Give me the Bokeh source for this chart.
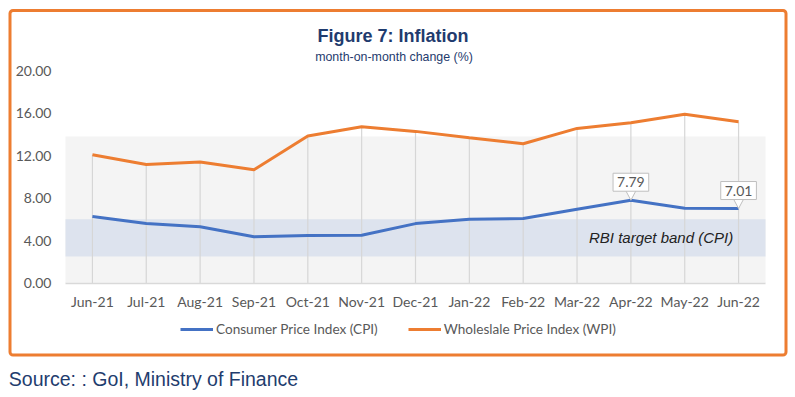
from bokeh.plotting import figure
from bokeh.models import (Label, BoxAnnotation, Legend, LegendItem, FixedTicker,
                          Range1d, NumeralTickFormatter, ColumnDataSource)
from bokeh.embed import file_html
from bokeh.resources import INLINE

# ---- data ----
months = ["Jun-21", "Jul-21", "Aug-21", "Sep-21", "Oct-21", "Nov-21", "Dec-21",
          "Jan-22", "Feb-22", "Mar-22", "Apr-22", "May-22", "Jun-22"]
cpi = [6.26, 5.59, 5.30, 4.35, 4.48, 4.50, 5.59, 6.01, 6.07, 6.95, 7.79, 7.04, 7.01]
wpi = [12.07, 11.16, 11.39, 10.66, 13.83, 14.70, 14.27, 13.68, 13.11, 14.55, 15.08, 15.88, 15.18]
y_ticks = [0, 4, 8, 12, 16, 20]
band_low, band_high = 2.5, 6.0
panel_top = 13.8
callout_months = ["Apr-22", "Jun-22"]

BLUE = "#4472C4"
ORANGE = "#ED7D31"
NAVY = "#1F3B6E"
GREY_TXT = "#595959"

# ---- layout (pixels) ----
W, H = 795, 397
PX_L, PX_R = 65, 765          # plot area left/right
PX_Y0, PX_YTOP = 282.5, 70    # pixel rows of y=0 and y=top tick

n = len(months)
x_lo, x_hi = -0.5, n - 0.5
ppx = (PX_R - PX_L) / (x_hi - x_lo)
y_lo, y_hi = y_ticks[0], y_ticks[-1]
ppy = (PX_Y0 - PX_YTOP) / (y_hi - y_lo)

xs = list(range(n))
src = ColumnDataSource(dict(x=xs, cpi=cpi, wpi=wpi, zero=[0] * n))

p = figure(width=W, height=H, output_backend="svg", toolbar_location=None,
           x_range=Range1d(x_lo - PX_L / ppx, x_hi + (W - PX_R) / ppx),
           y_range=Range1d(y_lo - (H - PX_Y0) / ppy, y_hi + PX_YTOP / ppy),
           min_border=0)
p.outline_line_color = None
p.background_fill_color = "white"
p.border_fill_color = "white"
p.xgrid.visible = False
p.ygrid.visible = False

# plot-area panel and RBI band
p.quad(left=x_lo, right=x_hi, bottom=0, top=panel_top, fill_color="#F4F4F4", line_color=None)
p.quad(left=x_lo, right=x_hi, bottom=band_low, top=band_high, fill_color="#DDE3EE", line_color=None)

# drop lines to WPI points
p.segment(x0="x", y0="zero", x1="x", y1="wpi", source=src, line_color="#D6D6D6", line_width=1.2)

r_cpi = p.line("x", "cpi", source=src, line_color=BLUE, line_width=3)
r_wpi = p.line("x", "wpi", source=src, line_color=ORANGE, line_width=3)

# axes (fixed inside the frame)
xa = p.xaxis[0]
xa.fixed_location = 0
xa.bounds = (x_lo, x_hi)
xa.ticker = FixedTicker(ticks=xs)
xa.major_label_overrides = {i: m for i, m in enumerate(months)}
xa.major_tick_in = 0
xa.major_tick_out = 0
xa.minor_tick_in = 0
xa.minor_tick_out = 0
xa.axis_line_color = "#D9D9D9"
xa.axis_line_width = 1.5
xa.major_label_standoff = 10
xa.major_label_text_font = "Lato"
xa.major_label_text_font_size = "14px"
xa.major_label_text_color = GREY_TXT

ya = p.yaxis[0]
ya.fixed_location = x_lo
ya.bounds = (y_lo, y_hi)
ya.ticker = FixedTicker(ticks=y_ticks)
ya.formatter = NumeralTickFormatter(format="0.00")
ya.major_tick_in = 0
ya.major_tick_out = 0
ya.minor_tick_in = 0
ya.minor_tick_out = 0
ya.axis_line_color = None
ya.major_label_standoff = 14
ya.major_label_text_font = "Lato"
ya.major_label_text_font_size = "14px"
ya.major_label_text_color = GREY_TXT

# callouts
for m in callout_months:
    i = months.index(m)
    v = cpi[i]
    p.patch(x=[i - 0.1, i + 0.1, i], y=[v + 0.95, v + 0.95, v],
            fill_color="white", line_color="#BFBFBF", line_width=1)
    p.add_layout(Label(x=i, y=v, y_offset=9, text=f"{v:.2f}", text_align="center",
                       text_baseline="bottom", text_font="Lato", text_font_size="14px",
                       text_color=GREY_TXT, background_fill_color="white",
                       border_line_color="#BFBFBF", border_line_width=1, padding=4))

p.add_layout(Label(x=n - 1.1, y=(band_low + band_high) / 2, text="RBI target band (CPI)",
                   text_align="right", text_baseline="middle", text_font="Liberation Sans",
                   text_font_style="italic", text_font_size="15px", text_color="#222222"))

# titles and source (screen units: frame == canvas, y measured from bottom)
p.add_layout(Label(x=392.5, y=H - 35, x_units="screen", y_units="screen",
                   text="Figure 7: Inflation", text_align="center", text_baseline="middle",
                   text_font="Liberation Sans", text_font_style="bold", text_font_size="18px",
                   text_color=NAVY))
p.add_layout(Label(x=393.5, y=H - 56.5, x_units="screen", y_units="screen",
                   text="month-on-month change (%)", text_align="center", text_baseline="middle",
                   text_font="Liberation Sans", text_font_size="12.4px", text_color=NAVY))
p.add_layout(Label(x=8.3, y=H - 378, x_units="screen", y_units="screen",
                   text="Source: : GoI, Ministry of Finance", text_align="left",
                   text_baseline="middle", text_font="Liberation Sans", text_font_size="19.5px",
                   text_color="#1F3D6E"))

# orange frame around the chart
p.add_layout(BoxAnnotation(left=9.5, right=785.5, top=10, bottom=354.5,
                           left_units="canvas", right_units="canvas",
                           top_units="canvas", bottom_units="canvas",
                           fill_alpha=0, line_color=ORANGE, line_width=3, line_alpha=1,
                           border_radius=3))

legend = Legend(items=[LegendItem(label="Consumer Price Index (CPI)", renderers=[r_cpi]),
                       LegendItem(label="Wholeslale Price Index (WPI)", renderers=[r_wpi])],
                orientation="horizontal", location=(180, H - 337), glyph_width=33, glyph_height=16,
                label_standoff=3, spacing=30, padding=0, margin=0,
                border_line_color=None, background_fill_alpha=0,
                label_text_font="Lato", label_text_font_size="13.6px",
                label_text_color=GREY_TXT)
p.add_layout(legend, "center")

open("out.html", "w").write(file_html(p, INLINE))
